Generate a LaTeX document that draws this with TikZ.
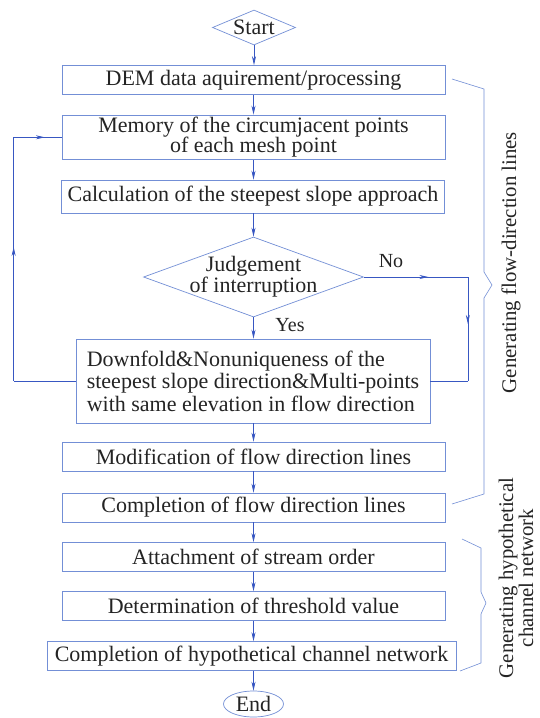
\documentclass[tikz,border=0pt]{standalone}
\usepackage{fontspec}
\setmainfont{Liberation Serif}
\usetikzlibrary{shapes.geometric,arrows.meta,decorations.markings}
\newlength{\du}
\setlength{\du}{1pt}
\definecolor{boxcolor}{rgb}{0.450000, 0.560000, 0.840000}
\definecolor{arrowcolor}{rgb}{0.220000, 0.340000, 0.760000}
\definecolor{textcolor}{rgb}{0.140000, 0.140000, 0.140000}
\tikzset{
  stepbox/.style={rectangle, draw=boxcolor, line width=0.7\du, text=textcolor,
    font=\fontsize{22}{20.5}\selectfont, inner sep=2\du,
    minimum width=383\du, minimum height=29\du},
  judgebox/.style={diamond, draw=boxcolor, line width=0.7\du, text=textcolor,
    font=\fontsize{22}{21}\selectfont, align=center},
  endbox/.style={ellipse, draw=boxcolor, line width=0.7\du, text=textcolor,
    font=\fontsize{22}{22}\selectfont, inner sep=0\du,
    minimum width=60\du, minimum height=26\du},
  flowarrow/.style={draw=arrowcolor, line width=0.7\du,
    -{Stealth[length=9pt,width=4pt]}},
  loopline/.style={draw=arrowcolor, line width=0.7\du},
  midarrow/.style={postaction={decorate}, decoration={markings,
    mark=at position #1 with {\arrow[color=arrowcolor]{Stealth[length=9pt,width=4pt]}}}},
  midarrow/.default=0.5,
  bracket/.style={draw=boxcolor, line width=0.6\du},
  sidetext/.style={text=textcolor, font=\fontsize{20.8}{20}\selectfont,
    rotate=90, align=center},
  yesno/.style={text=textcolor, font=\fontsize{20}{20}\selectfont}
}

\begin{document}
\begin{tikzpicture}[x=1\du, y=-1\du]
\fill[white] (0,0) rectangle (540,718);
\useasboundingbox (0,0) rectangle (540,718);

% steps
\node[judgebox, aspect=2.4, inner sep=0\du, minimum width=83\du, minimum height=35\du] (start) at (254,27.5) {Start};
\node[stepbox] (dem) at (253.5,80) {DEM data aquirement/processing};
\node[stepbox, align=center, minimum height=42.5\du] (mem) at (253.5,137.3) {Memory of the circumjacent points\\of each mesh point};
\node[stepbox, minimum height=33\du] (calc) at (253,196.5) {Calculation of the steepest slope approach};
\node[judgebox, aspect=2.75, inner sep=-3\du, minimum width=220\du, minimum height=80\du] (judge) at (253.5,277) {Judgement\\of interruption};
\node[stepbox, align=left, minimum width=354\du, minimum height=84\du, font=\fontsize{22}{22.5}\selectfont] (down) at (253,381) {Downfold\&Nonuniqueness of the\\steepest slope direction\&Multi-points\\with same elevation in flow direction};
\node[stepbox] (modi) at (253.5,456.5) {Modification of flow direction lines};
\node[stepbox] (compflow) at (253.5,507.5) {Completion of flow direction lines};
\node[stepbox] (attach) at (253.5,557) {Attachment of stream order};
\node[stepbox] (thresh) at (253.5,606) {Determination of threshold value};
\node[stepbox, minimum width=409\du] (compnet) at (251.5,656) {Completion of hypothetical channel network};
\node[endbox] (stop) at (253.5,704) {End};

% straight flow
\draw[flowarrow] (start.south) -- (start.south |- dem.north);
\draw[flowarrow] (dem.south) -- (dem.south |- mem.north);
\draw[flowarrow] (mem.south) -- (mem.south |- calc.north);
\draw[flowarrow] (calc.south -| judge.north) -- (judge.north);
\draw[flowarrow] (judge.south) -- (judge.south |- down.north);
\draw[flowarrow] (down.south -| modi.north) -- (modi.north);
\draw[flowarrow] (modi.south) -- (modi.south |- compflow.north);
\draw[flowarrow] (compflow.south) -- (compflow.south |- attach.north);
\draw[flowarrow] (attach.south) -- (attach.south |- thresh.north);
\draw[flowarrow] (thresh.south) -- (thresh.south |- compnet.north);
\draw[flowarrow] (compnet.south -| stop.north) -- (stop.north);

\node[yesno] (yes) at (290,325) {Yes};
\node[yesno] (no) at (391,261) {No};

% loop back to the mesh points
\path (down.west) ++(-62,0) coordinate (lbot);
\path (lbot |- mem.west) coordinate (ltop);
\draw[loopline] (down.west) -- (lbot);
\draw[loopline, midarrow=0.55] (lbot) -- (ltop);
\draw[loopline, midarrow=0.65] (ltop) -- (mem.west);

% "No" branch
\path (judge.east) ++(104,0) coordinate (rtop);
\path (rtop |- down.east) coordinate (rbot);
\draw[loopline, midarrow=0.62] (judge.east) -- (rtop);
\draw[loopline, midarrow=0.45] (rtop) -- (rbot);
\draw[loopline] (rbot) -- (down.east);

% braces on the right
\draw[bracket] (452,79) -- (484,89) -- (484,272) -- (492,285) -- (484,298) -- (484,494) -- (452,504);
\draw[bracket] (462,539) -- (481,548) -- (481,592) -- (486,603) -- (481,614) -- (481,663) -- (460,671);
\node[sidetext] (flowside) at (511,262.5) {Generating flow-direction lines};
\node[sidetext] (netside) at (516,578) {Generating hypothetical\\channel network};
\end{tikzpicture}
\end{document}
